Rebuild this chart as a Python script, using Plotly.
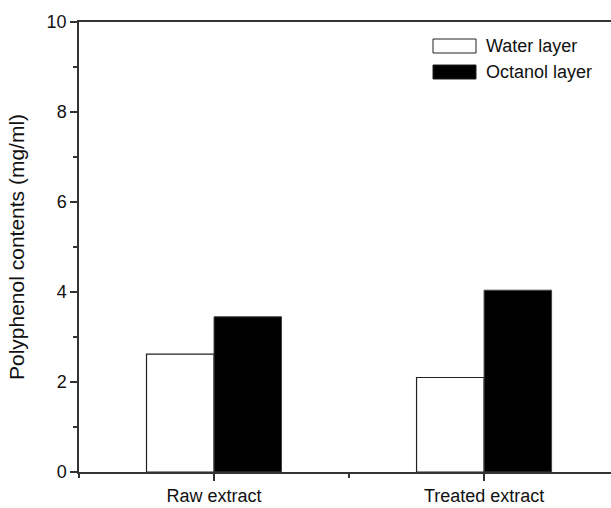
import plotly.graph_objects as go

categories = ["Raw extract", "Treated extract"]
series_names = ["Water layer", "Octanol layer"]
water_values = [2.62, 2.10]
octanol_values = [3.45, 4.04]
y_ticks = [0, 2, 4, 6, 8, 10]

x_pos = list(range(len(categories)))
line_col = "#333333"
FONT = "Liberation Sans, Arial"

fig = go.Figure()
fig.add_trace(go.Bar(x=x_pos, y=water_values, name=series_names[0],
                     marker=dict(color="white", line=dict(color="#222222", width=1.2)),
                     showlegend=False))
fig.add_trace(go.Bar(x=x_pos, y=octanol_values, name=series_names[1],
                     marker=dict(color="black", line=dict(color="#444444", width=1)),
                     showlegend=False))

# legend drawn as boxes + text
leg_items = [("white", series_names[0]), ("black", series_names[1])]
for i, (fill, name) in enumerate(leg_items):
    y_top = 1 - (17 + 26 * i) / 450
    y_bot = y_top - 14 / 450
    fig.add_shape(type="rect", xref="paper", yref="paper",
                  x0=(433 - 79) / 532, x1=(476 - 79) / 532, y0=y_bot, y1=y_top,
                  fillcolor=fill, line=dict(color="#222222", width=1))
    fig.add_annotation(xref="paper", yref="paper", x=(484 - 79) / 532,
                       y=(y_top + y_bot) / 2, text=name, showarrow=False,
                       xanchor="left", yanchor="middle",
                       font=dict(family=FONT, size=18, color="#111111"))

fig.update_layout(
    width=611, height=508,
    margin=dict(l=79, r=0, t=22, b=36),
    paper_bgcolor="white", plot_bgcolor="white",
    barmode="group", bargap=0.5, bargroupgap=0,
    font=dict(family=FONT, size=18, color="#111111"),
    xaxis=dict(range=[-0.5, 1.47], tickvals=x_pos, ticktext=categories,
               showgrid=False, zeroline=False, showline=True, linecolor=line_col,
               linewidth=1.5, mirror=True, ticks="outside", ticklen=7, tickwidth=1.5,
               tickcolor=line_col, tickfont=dict(size=18),
               minor=dict(tickvals=[-0.5, 0.5, 1.5], ticks="outside", ticklen=4,
                          tickwidth=1.5, tickcolor=line_col)),
    yaxis=dict(range=[0, 10], tickvals=y_ticks, showgrid=False, zeroline=False,
               showline=True, linecolor=line_col, linewidth=1.5,
               ticks="outside", ticklen=7, tickwidth=1.5, tickcolor=line_col,
               tickfont=dict(size=18),
               minor=dict(dtick=1, ticks="outside", ticklen=4, tickwidth=1.5,
                          tickcolor=line_col),
               title=dict(text="Polyphenol contents (mg/ml)", font=dict(size=21),
                          standoff=16)),
)

fig.write_html("out.html")
